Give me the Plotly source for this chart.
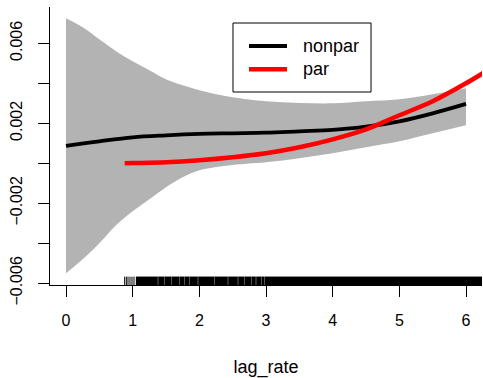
import plotly.graph_objects as go

# ---- data ----
band_x = [0, 0.25, 0.5, 0.75, 1, 1.25, 1.5, 1.75, 2, 2.25, 2.5, 3, 3.5, 4, 4.5, 5, 5.5, 6]
band_upper = [0.00725, 0.0068, 0.0062, 0.0056, 0.0051, 0.00465, 0.0042, 0.0039, 0.00365,
              0.00345, 0.0033, 0.0031, 0.00302, 0.0030, 0.0031, 0.0032, 0.00345, 0.00375]
band_lower = [-0.0055, -0.0048, -0.0040, -0.0031, -0.0024, -0.0018, -0.0012, -0.0007, -0.00035,
              -0.00018, -0.00008, 0.00005, 0.00025, 0.0005, 0.0008, 0.0011, 0.0015, 0.0019]

nonpar_x = [0, 0.5, 1, 1.5, 2, 2.5, 3, 3.5, 4, 4.5, 5, 5.5, 6]
nonpar_y = [0.00087, 0.0011, 0.0013, 0.0014, 0.00147, 0.0015, 0.00153, 0.0016, 0.00167,
            0.00183, 0.0021, 0.0025, 0.00297]

par_x = [0.88, 1, 1.5, 2, 2.5, 3, 3.5, 4, 4.5, 5, 5.5, 6, 6.3]
par_y = [0.0, 0.00001, 0.00005, 0.00015, 0.0003, 0.0005, 0.0008, 0.0012, 0.0017,
         0.0024, 0.0031, 0.0040, 0.0046]

rug_ticks = [0.88, 0.905, 0.93, 0.96, 0.99, 1.02]
rug_dense_spans = [(1.05, 1.376), (1.384, 1.476), (1.484, 1.576), (1.584, 1.696), (1.704, 1.776),
                   (1.784, 1.846), (1.854, 1.976), (1.984, 2.226), (2.234, 2.426), (2.434, 2.576),
                   (2.584, 2.676), (2.684, 2.776), (2.784, 2.846), (2.854, 2.926), (2.934, 2.976),
                   (2.984, 6.3)]

legend_names = ["nonpar", "par"]
legend_colors = ["black", "#FF0000"]

x_ticks = [0, 1, 2, 3, 4, 5, 6]
y_ticks = [-0.006, -0.004, -0.002, 0.0, 0.002, 0.004, 0.006]
y_ticktext = ["\u22120.006", "", "\u22120.002", "", "0.002", "", "0.006"]

# ---- figure ----
FONT = "Liberation Sans, Arial, Helvetica, sans-serif"
fig = go.Figure()

fig.add_trace(go.Scatter(x=band_x, y=band_upper, mode="lines", line=dict(width=0, shape="spline"),
                         showlegend=False, hoverinfo="skip"))
fig.add_trace(go.Scatter(x=band_x, y=band_lower, mode="lines", line=dict(width=0, shape="spline"),
                         fill="tonexty", fillcolor="#B3B3B3", showlegend=False, hoverinfo="skip"))

fig.add_trace(go.Scatter(x=nonpar_x, y=nonpar_y, mode="lines", name=legend_names[0],
                         showlegend=False,
                         line=dict(color=legend_colors[0], width=3.8, shape="spline")))
fig.add_trace(go.Scatter(x=par_x, y=par_y, mode="lines", name=legend_names[1],
                         showlegend=False,
                         line=dict(color=legend_colors[1], width=4.5, shape="spline")))

# rug on an overlay axis (0..1 of plot height)
rx, ry = [], []
for t in rug_ticks:
    rx += [t, t, None]
    ry += [0, 0.03, None]
fig.add_trace(go.Scatter(x=rx, y=ry, mode="lines", yaxis="y2", line=dict(color="black", width=1),
                         showlegend=False, hoverinfo="skip"))
sx, sy = [], []
for a, b in rug_dense_spans:
    sx += [a, b, b, a, a, None]
    sy += [0, 0, 0.03, 0.03, 0, None]
fig.add_trace(go.Scatter(x=sx, y=sy, mode="lines", yaxis="y2", fill="toself", fillcolor="black",
                         line=dict(color="black", width=0.3), showlegend=False, hoverinfo="skip"))

# legend box drawn in R style (paper coordinates)
shapes = [dict(type="rect", xref="paper", yref="paper", x0=0.4236, x1=0.7431, y0=0.6942, y1=0.9424,
               line=dict(color="black", width=1), fillcolor="white", layer="above")]
annotations = []
for i, (nm, col) in enumerate(zip(legend_names, legend_colors)):
    yy = 0.8597 - i * 0.0838
    shapes.append(dict(type="line", xref="paper", yref="paper", x0=0.4606, x1=0.5486, y0=yy, y1=yy,
                       line=dict(color=col, width=4.5 if i else 4), layer="above"))
    annotations.append(dict(xref="paper", yref="paper", x=0.582, y=yy, text=nm, showarrow=False,
                            xanchor="left", yanchor="middle", font=dict(size=18, color="black")))

fig.update_layout(
    width=483, height=378,
    margin=dict(l=50, r=1, t=7, b=93),
    paper_bgcolor="white", plot_bgcolor="white",
    font=dict(family=FONT, size=16, color="black"),
    showlegend=False,
    shapes=shapes, annotations=annotations,
    xaxis=dict(range=[-0.24, 6.24], tickvals=x_ticks, ticks="outside", ticklen=11,
               tickcolor="black", showline=True, linecolor="black", linewidth=1,
               showgrid=False, zeroline=False, ticklabelstandoff=10,
               title=dict(text="lag_rate", standoff=32, font=dict(size=18))),
    yaxis=dict(range=[-0.006085, 0.007815], tickvals=y_ticks, ticktext=y_ticktext,
               ticks="outside", ticklen=11, tickcolor="black", tickangle=-90,
               showline=True, linecolor="black", linewidth=1, showgrid=False,
               zeroline=False, ticklabelstandoff=10),
    yaxis2=dict(range=[0, 1], overlaying="y", visible=False, fixedrange=True),
)

fig.write_html("out.html")
